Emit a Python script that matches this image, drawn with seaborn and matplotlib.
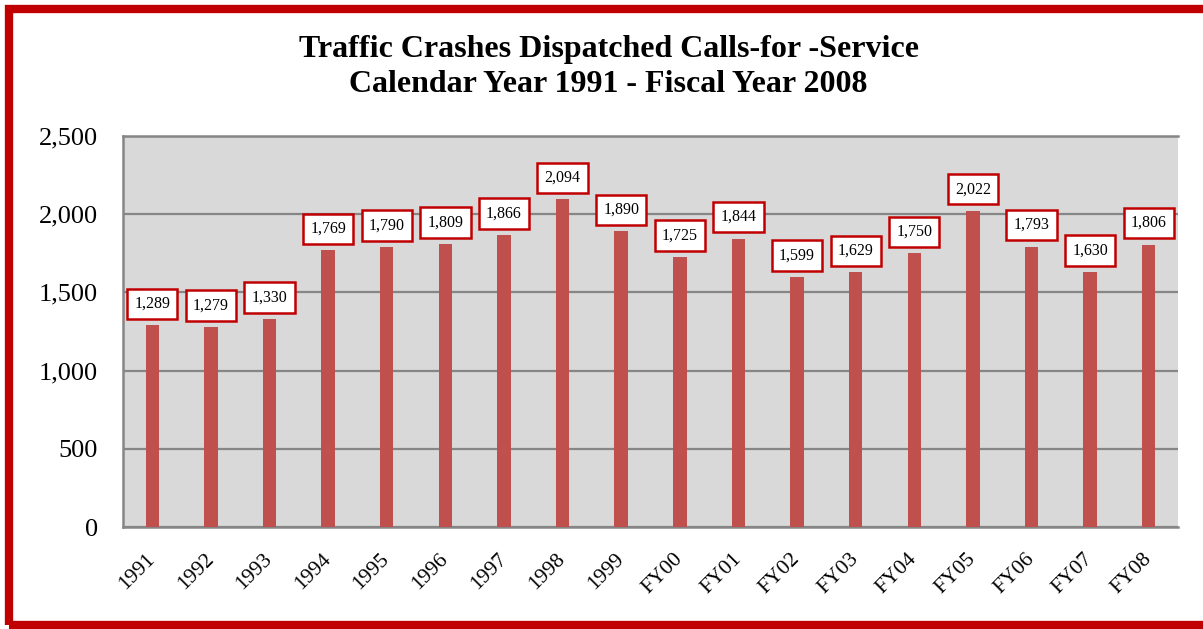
import matplotlib
matplotlib.use("Agg")
import matplotlib.pyplot as plt
import seaborn as sns
import pandas as pd
from matplotlib.patches import Rectangle
from matplotlib.ticker import FuncFormatter

years = ["1991", "1992", "1993", "1994", "1995", "1996", "1997", "1998", "1999",
         "FY00", "FY01", "FY02", "FY03", "FY04", "FY05", "FY06", "FY07", "FY08"]
calls = [1289, 1279, 1330, 1769, 1790, 1809, 1866, 2094, 1890,
         1725, 1844, 1599, 1629, 1750, 2022, 1793, 1630, 1806]
title_lines = ["Traffic Crashes Dispatched Calls-for -Service",
               "Calendar Year 1991 - Fiscal Year 2008"]

df = pd.DataFrame({"year": years, "calls": calls})

sns.set_theme(style="white")
plt.rcParams["font.family"] = ["Liberation Serif", "DejaVu Serif"]
plt.rcParams["text.color"] = "black"

fig = plt.figure(figsize=(12.03, 6.29), dpi=100)
ax = fig.add_axes([123 / 1203, 1 - 527 / 629, (1178 - 123) / 1203, (527 - 136) / 629])

sns.barplot(data=df, x="year", y="calls", color="#c0504d", saturation=1,
            width=0.23, linewidth=0, ax=ax, zorder=3)

ax.set_facecolor("#d9d9d9")
ax.set_xlim(-0.5, len(years) - 0.5)
ax.set_ylim(0, 2500)
ax.set_yticks([0, 500, 1000, 1500, 2000, 2500])
ax.yaxis.set_major_formatter(FuncFormatter(lambda v, p: f"{int(v):,}"))
ax.grid(axis="y", color="#868686", linewidth=1.6, zorder=1)
ax.grid(axis="x", visible=False)
ax.set_axisbelow(True)
ax.set_xlabel("")
ax.set_ylabel("")
for side in ["left", "bottom", "top"]:
    ax.spines[side].set_visible(True)
    ax.spines[side].set_color("#868686")
    ax.spines[side].set_linewidth(1.8)
ax.spines["right"].set_visible(False)

ax.tick_params(axis="y", length=0, pad=18, labelsize=19, labelcolor="black")
ax.tick_params(axis="x", length=0, pad=21, labelsize=15.5, labelcolor="black")
for lab in ax.get_xticklabels():
    lab.set_rotation(45)
    lab.set_ha("right")
    lab.set_va("center")
    lab.set_rotation_mode("anchor")

for i, v in enumerate(calls):
    ax.annotate(f"{v:,}", xy=(i, v), xytext=(0, 15.5), textcoords="offset points",
                ha="center", va="center", fontsize=11.5, color="black", zorder=5,
                bbox=dict(boxstyle="square,pad=0.45", fc="white", ec="#c00000", lw=1.8))

fig.text(0.506, 1 - 50 / 629, title_lines[0], ha="center", va="center",
         fontsize=23, fontweight="bold", color="black")
fig.text(0.506, 1 - 85 / 629, title_lines[1], ha="center", va="center",
         fontsize=23, fontweight="bold", color="black")

border = Rectangle((9 / 1203, 4 / 629), 1.2, 1 - 13 / 629, transform=fig.transFigure,
                   fill=False, ec="#c00000", lw=6, zorder=10)
fig.patches.append(border)

fig.savefig("out.png", dpi=100)
